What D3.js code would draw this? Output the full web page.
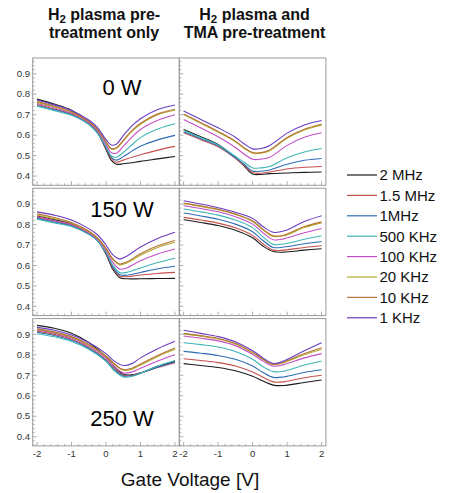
<!DOCTYPE html>
<html><head><meta charset="utf-8">
<script src="https://cdn.jsdelivr.net/npm/d3@7"></script>
<style>
body{margin:0;background:#fff;}
svg{display:block;font-family:"Liberation Sans",Arial,Helvetica,sans-serif;}
</style></head>
<body><svg id="c" width="454" height="493"></svg>
<script>
// ---------- data ----------
const frequencies = ["2 MHz","1.5 MHz","1MHz","500 KHz","100 KHz","20 KHz","10 KHz","1 KHz"];
const powers = ["0 W","150 W","250 W"];
const columnTitles = [["plasma pre-","treatment only"],["plasma and","TMA pre-treatment"]];
const xTicks = [-2,-1,0,1,2];
const yTicks = [0.4,0.5,0.6,0.7,0.8,0.9];

// series order: 2 MHz, 1.5 MHz, 1MHz, 500 KHz, 100 KHz, 20 KHz, 10 KHz, 1 KHz
const v0wPre = [-2,-1.5,-1,-0.5,-0.25,0,0.15,0.3,0.5,0.75,1,1.5,2];
const c0wPre = [
  [.776,.752,.722,.665,.615,.530,.478,.458,.460,.465,.472,.484,.496],
  [.750,.728,.703,.657,.614,.535,.486,.468,.478,.492,.504,.527,.545],
  [.745,.724,.700,.654,.612,.540,.493,.478,.495,.522,.546,.577,.599],
  [.742,.720,.697,.652,.610,.545,.500,.492,.515,.553,.588,.630,.656],
  [.755,.733,.708,.662,.622,.555,.515,.512,.545,.590,.628,.673,.700],
  [.760,.738,.712,.666,.628,.565,.532,.535,.572,.618,.653,.700,.722],
  [.765,.742,.715,.668,.630,.567,.535,.538,.575,.622,.658,.704,.727],
  [.772,.748,.720,.674,.638,.578,.552,.556,.598,.645,.680,.725,.747]
];
const v0wTma = [-2,-1.5,-1,-0.5,-0.25,0,0.25,0.5,1,1.5,2];
const c0wTma = [
  [.628,.592,.555,.490,.450,.410,.408,.412,.415,.418,.420],
  [.612,.578,.543,.487,.452,.417,.414,.420,.435,.443,.447],
  [.617,.583,.548,.490,.458,.425,.424,.430,.458,.477,.486],
  [.623,.588,.552,.497,.468,.440,.440,.447,.490,.518,.535],
  [.677,.635,.592,.540,.508,.482,.483,.492,.550,.590,.612],
  [.701,.658,.615,.568,.536,.512,.512,.525,.585,.625,.649],
  [.704,.661,.618,.571,.539,.515,.515,.528,.589,.629,.653],
  [.718,.677,.636,.590,.558,.533,.535,.550,.610,.650,.672]
];
const v150wPre = [-2,-1.5,-1,-0.5,-0.25,0,0.2,0.4,0.6,1,1.5,2];
const c150wPre = [
  [.842,.824,.803,.760,.725,.655,.580,.540,.535,.535,.536,.537],
  [.835,.817,.797,.757,.724,.660,.587,.548,.545,.553,.561,.566],
  [.830,.812,.793,.754,.722,.662,.592,.555,.552,.566,.584,.596],
  [.826,.808,.790,.752,.720,.665,.600,.565,.566,.588,.614,.635],
  [.838,.820,.800,.760,.728,.675,.614,.582,.588,.623,.656,.680],
  [.845,.828,.806,.765,.733,.682,.628,.603,.612,.650,.688,.713],
  [.852,.834,.810,.768,.735,.685,.632,.607,.617,.657,.696,.722],
  [.862,.846,.822,.780,.750,.700,.652,.632,.645,.690,.732,.762]
];
const v150wTma = [-2,-1.5,-1,-0.5,0,0.3,0.6,0.9,1.5,2];
const c150wTma = [
  [.823,.810,.795,.772,.735,.695,.668,.665,.675,.682],
  [.835,.822,.807,.784,.747,.706,.675,.675,.688,.696],
  [.856,.842,.826,.802,.765,.722,.688,.690,.706,.717],
  [.876,.862,.846,.822,.785,.740,.703,.705,.728,.745],
  [.892,.878,.862,.838,.802,.760,.726,.730,.760,.781],
  [.902,.888,.872,.849,.815,.774,.742,.745,.785,.808],
  [.905,.891,.875,.852,.818,.777,.745,.748,.790,.813],
  [.916,.900,.882,.860,.830,.790,.762,.768,.815,.843]
];
const v250wPre = [-2,-1.5,-1,-0.5,0,0.25,0.5,0.75,1,1.5,2];
const c250wPre = [
  [.944,.930,.905,.860,.790,.740,.705,.702,.712,.744,.768],
  [.916,.900,.876,.836,.776,.730,.700,.700,.710,.738,.762],
  [.910,.894,.871,.832,.772,.725,.697,.698,.710,.740,.765],
  [.903,.888,.865,.827,.768,.720,.692,.694,.710,.745,.772],
  [.922,.906,.882,.843,.785,.742,.712,.716,.734,.770,.800],
  [.924,.909,.886,.848,.792,.752,.725,.730,.750,.792,.827],
  [.927,.912,.889,.851,.795,.755,.728,.734,.755,.797,.833],
  [.934,.920,.897,.860,.806,.768,.748,.757,.785,.830,.866]
];
const v250wTma = [-2,-1.5,-1,-0.5,0,0.3,0.6,0.9,1.5,2];
const c250wTma = [
  [.757,.748,.738,.722,.695,.672,.652,.650,.665,.677],
  [.781,.772,.762,.745,.716,.690,.668,.668,.688,.700],
  [.817,.808,.797,.778,.745,.714,.690,.692,.714,.727],
  [.859,.850,.838,.816,.778,.742,.718,.720,.750,.770],
  [.892,.881,.868,.845,.802,.770,.745,.752,.785,.806],
  [.902,.891,.877,.853,.810,.778,.752,.762,.800,.827],
  [.905,.894,.880,.856,.812,.780,.754,.765,.806,.835],
  [.920,.905,.889,.864,.820,.785,.758,.770,.820,.859]
];

// ---------- styles / layout ----------
const colors = ["#1c1c1c","#c4504c","#2f6db5","#3fb5b5","#c24fc6","#b3ab2c","#b5743a","#6a3dbf"];
const colX = [32.7, 179.3];
const panelW = 146.6;
const rowY = [58, 188.3, 318.6];
const panelH = 127.3;
const frameColor = "#9a9a9a";

const panels = [
  {row:0,col:0,v:v0wPre,c:c0wPre},
  {row:0,col:1,v:v0wTma,c:c0wTma},
  {row:1,col:0,v:v150wPre,c:c150wPre},
  {row:1,col:1,v:v150wTma,c:c150wTma},
  {row:2,col:0,v:v250wPre,c:c250wPre},
  {row:2,col:1,v:v250wTma,c:c250wTma}
];

const svg = d3.select("#c");
const defs = svg.append("defs");

panels.forEach((p,i)=>{
  const x0 = colX[p.col], y0 = rowY[p.row];
  const x = d3.scaleLinear().domain([-2.125,2.125]).range([x0,x0+panelW]);
  const y = d3.scaleLinear().domain([0.355,0.977]).range([y0+panelH,y0]);
  const g = svg.append("g");
  defs.append("clipPath").attr("id","clip"+i).append("rect")
    .attr("x",x0).attr("y",y0).attr("width",panelW).attr("height",panelH);

  // curves
  const line = d3.line().x(d=>x(d[0])).y(d=>y(d[1])).curve(d3.curveCatmullRom.alpha(0.5));
  const cg = g.append("g").attr("clip-path","url(#clip"+i+")");
  p.c.forEach((s,k)=>{
    cg.append("path").attr("d",line(p.v.map((vv,j)=>[vv,s[j]])))
      .attr("fill","none").attr("stroke",colors[k]).attr("stroke-width",1.1);
  });

  // frame
  g.append("rect").attr("x",x0).attr("y",y0).attr("width",panelW).attr("height",panelH)
    .attr("fill","none").attr("stroke",frameColor).attr("stroke-width",1);

  // x ticks (bottom, inside)
  const xMinor = d3.range(-20,21,2).map(d=>d/10);
  xMinor.forEach(t=>{
    const major = xTicks.includes(t);
    g.append("line").attr("x1",x(t)).attr("x2",x(t))
      .attr("y1",y0+panelH).attr("y2",y0+panelH-(major?4:2))
      .attr("stroke",frameColor).attr("stroke-width",0.8);
  });
  // y ticks (left, inside)
  const yMinor = d3.range(36,97,2).map(d=>d/100);
  yMinor.forEach(t=>{
    const major = yTicks.some(m=>Math.abs(m-t)<1e-6);
    g.append("line").attr("y1",y(t)).attr("y2",y(t))
      .attr("x1",x0).attr("x2",x0+(major?4:2))
      .attr("stroke",frameColor).attr("stroke-width",0.8);
  });

  if(p.col===0){
    yTicks.forEach(t=>{
      g.append("text").attr("x",x0-2.5).attr("y",y(t)).attr("dy","0.34em")
        .attr("text-anchor","end").attr("font-size",9.6).attr("fill","#333")
        .text(d3.format(".1f")(t));
    });
  }
  if(p.row===2){
    xTicks.forEach(t=>{
      g.append("text").attr("x",x(t)).attr("y",y0+panelH+11.5)
        .attr("text-anchor","middle").attr("font-size",9.6).attr("fill","#333")
        .text(t);
    });
  }
});

// power labels
const powerPos = [95, 216.7, 426];
powers.forEach((t,i)=>{
  svg.append("text").attr("x",122).attr("y",powerPos[i]).attr("text-anchor","middle")
    .attr("font-size",22).attr("fill","#000").text(t);
});

// column titles
const titleX = [104, 254.5];
columnTitles.forEach((lines,i)=>{
  const t1 = svg.append("text").attr("x",titleX[i]).attr("y",20).attr("text-anchor","middle")
    .attr("font-size",16).attr("font-weight","bold").attr("fill","#111");
  t1.append("tspan").text("H");
  t1.append("tspan").attr("font-size",11.5).attr("dy",3).text("2");
  t1.append("tspan").attr("dy",-3).text(" "+lines[0]);
  svg.append("text").attr("x",titleX[i]).attr("y",37.5).attr("text-anchor","middle")
    .attr("font-size",16).attr("font-weight","bold").attr("fill","#111").text(lines[1]);
});

// x axis title
svg.append("text").attr("x",190).attr("y",486).attr("text-anchor","middle")
  .attr("font-size",19).attr("fill","#111").text("Gate Voltage [V]");

// legend
const legend = svg.append("g");
frequencies.forEach((f,k)=>{
  const yy = 175 + k*20.4;
  legend.append("line").attr("x1",347).attr("x2",377).attr("y1",yy).attr("y2",yy)
    .attr("stroke",colors[k]).attr("stroke-width",1.2);
  legend.append("text").attr("x",379.5).attr("y",yy).attr("dy","0.36em")
    .attr("font-size",15).attr("fill","#111").text(f);
});
</script></body></html>
